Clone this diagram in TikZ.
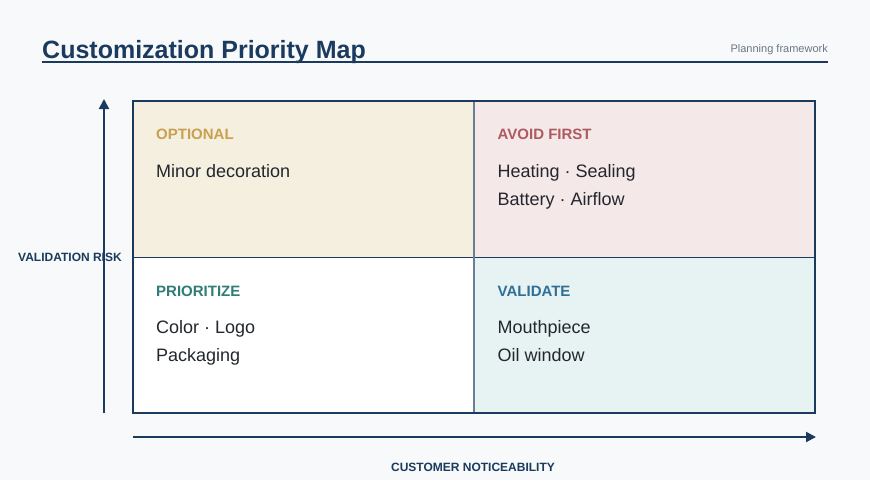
\documentclass[tikz,border=0pt]{standalone}
\usepackage{fontspec}
\setmainfont{Liberation Sans}
\usetikzlibrary{arrows.meta}
\definecolor{bg}{HTML}{F7F9FB}
\definecolor{navy}{HTML}{1B3A5E}
\definecolor{qtl}{HTML}{F5EFE0}
\definecolor{qtr}{HTML}{F5E8E8}
\definecolor{qbl}{HTML}{FFFFFF}
\definecolor{qbr}{HTML}{E7F3F2}
\definecolor{cOpt}{HTML}{C9A04E}
\definecolor{cAvoid}{HTML}{AE5A60}
\definecolor{cPrio}{HTML}{2E7D78}
\definecolor{cVal}{HTML}{2F6E96}
\definecolor{body}{HTML}{22272E}
\definecolor{subtle}{HTML}{6B7785}
\definecolor{midline}{HTML}{6B7F93}
\tikzset{
  quad/.style={draw=none, minimum width=341pt, minimum height=156pt, inner sep=0pt, outer sep=0pt},
  qhead/.style={anchor=base west, inner sep=0pt, font=\fontsize{15}{18}\selectfont\bfseries},
  qbody/.style={anchor=base west, inner sep=0pt, font=\fontsize{18}{22}\selectfont, text=body},
  axis/.style={draw=navy, line width=2pt, -{Triangle[length=10pt,width=10pt]}},
  axlabel/.style={inner sep=0pt, font=\fontsize{12}{14}\selectfont\bfseries, text=navy}
}
\begin{document}
\begin{tikzpicture}[x=1pt,y=-1pt]
\fill[bg] (0,0) rectangle (870,480);
\useasboundingbox (0,0) rectangle (870,480);
% title
\node[anchor=base west, inner sep=0pt, font=\fontsize{25}{30}\selectfont\bfseries, text=navy] (title) at (42,58) {Customization Priority Map};
\node[anchor=base east, inner sep=0pt, font=\fontsize{11}{13}\selectfont, text=subtle] (sub) at (828,52) {Planning framework};
\coordinate (ulA) at (42,62);
\coordinate (ulB) at (828,62);
\draw[navy, line width=2pt] (ulA) -- (ulB);
% quadrants
\node[quad, fill=qtl, anchor=north west] (tl) at (133,101) {};
\node[quad, fill=qtr, anchor=north west] (tr) at (474,101) {};
\node[quad, fill=qbl, anchor=north west] (bl) at (133,257) {};
\node[quad, fill=qbr, anchor=north west] (br) at (474,257) {};
\draw[navy, line width=1pt] (tl.south west) -- (tr.south east);
\draw[midline, line width=1.2pt] (tl.north east) -- (bl.south east);
\draw[navy, line width=2pt] (tl.north west) rectangle (br.south east);
% labels
\node[qhead, text=cOpt] (hOpt) at (156,139.5) {OPTIONAL};
\node[qbody] (tOpt1) at (156,177.5) {Minor decoration};
\node[qhead, text=cAvoid] (hAvoid) at (497.5,139.5) {AVOID FIRST};
\node[qbody] (tAvoid1) at (497.5,177) {Heating · Sealing};
\node[qbody] (tAvoid2) at (497.5,205) {Battery · Airflow};
\node[qhead, text=cPrio] (hPrio) at (156,296.5) {PRIORITIZE};
\node[qbody] (tPrio1) at (156,333.5) {Color · Logo};
\node[qbody] (tPrio2) at (156,361.5) {Packaging};
\node[qhead, text=cVal] (hVal) at (497.5,296.5) {VALIDATE};
\node[qbody] (tVal1) at (497.5,333.5) {Mouthpiece};
\node[qbody] (tVal2) at (497.5,361.5) {Oil window};
% axes
\coordinate (yA) at (104,413);
\coordinate (yB) at (104,99);
\draw[axis] (yA) -- (yB);
\coordinate (xA) at (133,437);
\coordinate (xB) at (816,437);
\draw[axis] (xA) -- (xB);
\node[axlabel, anchor=base west] (ylab) at (18,261.3) {VALIDATION RISK};
\node[axlabel, anchor=base] (xlab) at (473,471.3) {CUSTOMER NOTICEABILITY};
\end{tikzpicture}
\end{document}
